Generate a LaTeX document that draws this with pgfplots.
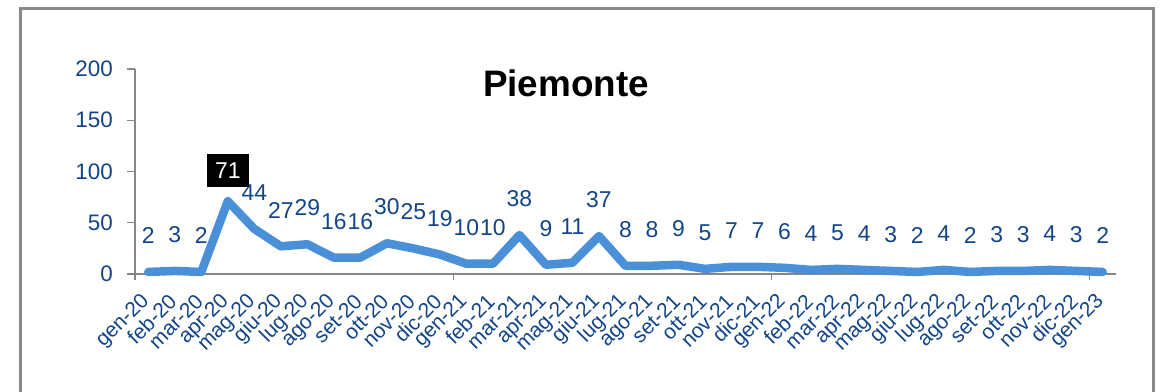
\documentclass[border=0pt]{standalone}
\usepackage{pgfplots}
\pgfplotsset{compat=1.18}
\usepackage{pgfplotstable}
\usepackage{fontspec}
\setmainfont{Liberation Sans}

\definecolor{lineblue}{RGB}{74,144,217}
\definecolor{textblue}{RGB}{17,68,136}
\definecolor{axisgray}{RGB}{134,134,134}
\definecolor{framegray}{RGB}{136,136,136}

% monthly values, gen-20 .. gen-23
\pgfplotstableread{
x y
0 2
1 3
2 2
3 71
4 44
5 27
6 29
7 16
8 16
9 30
10 25
11 19
12 10
13 10
14 38
15 9
16 11
17 37
18 8
19 8
20 9
21 5
22 7
23 7
24 6
25 4
26 5
27 4
28 3
29 2
30 4
31 2
32 3
33 3
34 4
35 3
36 2
}\piemonte

\begin{document}
\begin{tikzpicture}
\useasboundingbox (0,0) rectangle (1163bp,392bp);
\clip (0,0) rectangle (1163bp,392bp);

\draw[line width=3bp, framegray] (20bp,-10bp) -- (20bp,383.2bp) -- (1153bp,383.2bp) -- (1153bp,-10bp);

\begin{axis}[
    at={(135bp,118bp)}, anchor=south west,
    scale only axis,
    width=981bp, height=205bp,
    xmin=-0.5, xmax=36.5,
    ymin=0, ymax=200,
    clip=false,
    axis x line*=bottom,
    axis y line*=left,
    axis line style={draw=axisgray, line width=1.3bp},
    tick align=outside,
    major tick length=8bp,
    minor tick length=6bp,
    tick style={draw=axisgray, line width=1.3bp},
    major x tick style={draw=none},
    ytick={0,50,100,150,200},
    xtick={0,...,36},
    minor xtick={-0.5,11.5,23.5,35.5},
    xticklabels={gen-20,feb-20,mar-20,apr-20,mag-20,giu-20,lug-20,ago-20,set-20,ott-20,nov-20,dic-20,
                 gen-21,feb-21,mar-21,apr-21,mag-21,giu-21,lug-21,ago-21,set-21,ott-21,nov-21,dic-21,
                 gen-22,feb-22,mar-22,apr-22,mag-22,giu-22,lug-22,ago-22,set-22,ott-22,nov-22,dic-22,
                 gen-23},
    /pgf/number format/assume math mode=true,
    yticklabel style={font=\fontsize{22.5}{25}\selectfont, text=textblue, anchor=east, inner sep=0pt, xshift=-14bp},
    xticklabel style={font=\fontsize{21}{23}\selectfont, text=textblue, xshift=-2bp, yshift=-16bp, rotate=45, anchor=east, inner sep=0pt},
]
\addplot[lineblue, line width=8.5bp, line join=round, line cap=round, mark=none,
    nodes near coords,
    every node near coord/.append style={font=\fontsize{23}{25}\selectfont, text=textblue, anchor=south, inner sep=0pt, yshift=24bp}]
    table[x=x, y=y] {\piemonte};
% highlighted peak label
\addplot[draw=none, mark=none, forget plot,
    nodes near coords,
    every node near coord/.append style={font=\fontsize{23}{25}\selectfont, text=white, fill=black, anchor=south, inner sep=8.5bp, yshift=14bp}]
    coordinates {(3,71)};
\end{axis}

\node[anchor=base, font=\bfseries\fontsize{37}{40}\selectfont] at (566bp,295.3bp) {Piemonte};
\end{tikzpicture}
\end{document}
